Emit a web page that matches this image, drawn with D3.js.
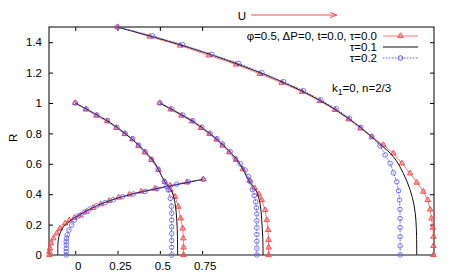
<!DOCTYPE html>
<html>
<head>
<meta charset="utf-8">
<script src="https://cdn.jsdelivr.net/npm/d3@7"></script>
<style>
  body { margin: 0; background: #fff; }
  svg { display: block; font-family: "Liberation Sans", Arial, sans-serif; }
</style>
</head>
<body>
<svg id="chart" width="457" height="277"></svg>
<script>
// tick values
const xTicks = [0, 0.25, 0.5, 0.75];
const yTicks = [0, 0.2, 0.4, 0.6, 0.8, 1, 1.2, 1.4];

// drop starting at (0, 1)
const dropARed = [[0,1],[0.062,0.958],[0.125,0.917],[0.188,0.88],[0.243,0.836],[0.293,0.796],[0.337,0.762],[0.373,0.718],[0.412,0.675],[0.45,0.625],[0.492,0.56],[0.53,0.482],[0.562,0.43],[0.59,0.384],[0.609,0.318],[0.623,0.241],[0.635,0.175],[0.639,0.11],[0.64,0.05],[0.64,0]];
const dropABlack = [[0,1],[0.1,0.94],[0.2,0.876],[0.3,0.795],[0.4,0.695],[0.47,0.605],[0.53,0.48],[0.57,0.42],[0.59,0.34],[0.6,0.23],[0.604,0.12],[0.605,0]];
const dropABlue = [[0,1],[0.065,0.961],[0.128,0.921],[0.191,0.884],[0.246,0.84],[0.295,0.8],[0.339,0.765],[0.375,0.722],[0.413,0.68],[0.45,0.63],[0.49,0.565],[0.527,0.482],[0.55,0.428],[0.562,0.373],[0.568,0.32],[0.57,0.275],[0.57,0.23],[0.57,0.185],[0.57,0.14],[0.57,0.095],[0.57,0.05],[0.57,0]];

// drop starting at (0.5, 1)
const dropBRed = [[0.5,1],[0.563,0.958],[0.627,0.917],[0.69,0.879],[0.742,0.836],[0.793,0.796],[0.835,0.76],[0.87,0.72],[0.91,0.675],[0.95,0.625],[0.99,0.565],[1.03,0.49],[1.06,0.44],[1.085,0.4],[1.102,0.362],[1.122,0.296],[1.132,0.23],[1.14,0.165],[1.142,0.1],[1.143,0.05],[1.143,0]];
const dropBBlack = [[0.5,1],[0.6,0.94],[0.7,0.876],[0.8,0.795],[0.9,0.695],[0.97,0.605],[1.03,0.48],[1.07,0.42],[1.092,0.34],[1.102,0.23],[1.108,0.12],[1.11,0]];
const dropBBlue = [[0.5,1],[0.571,0.961],[0.636,0.921],[0.695,0.884],[0.748,0.84],[0.797,0.8],[0.837,0.765],[0.87,0.73],[0.916,0.68],[0.945,0.636],[0.975,0.6],[1.004,0.559],[1.024,0.515],[1.035,0.482],[1.047,0.43],[1.058,0.39],[1.066,0.35],[1.071,0.31],[1.073,0.27],[1.073,0.225],[1.073,0.18],[1.073,0.135],[1.073,0.09],[1.073,0.045],[1.073,0]];

// drop starting at (0.25, 1.5)
const dropCRed = [[0.25,1.5],[0.44,1.437],[0.62,1.378],[0.79,1.313],[0.95,1.253],[1.09,1.192],[1.22,1.133],[1.34,1.074],[1.445,1.013],[1.535,0.955],[1.615,0.893],[1.685,0.833],[1.752,0.775],[1.821,0.724],[1.88,0.669],[1.93,0.603],[1.979,0.537],[2.018,0.476],[2.057,0.417],[2.083,0.362],[2.097,0.3],[2.105,0.24],[2.113,0.18],[2.117,0.12],[2.117,0.06],[2.117,0]];
const dropCBlack = [[0.25,1.5],[0.6,1.39],[0.9,1.28],[1.2,1.15],[1.45,1.015],[1.65,0.87],[1.8,0.73],[1.88,0.647],[1.939,0.537],[1.979,0.428],[2.002,0.329],[2.013,0.23],[2.017,0.12],[2.018,0]];
const dropCBlue = [[0.25,1.5],[0.457,1.441],[0.634,1.384],[0.807,1.32],[0.965,1.261],[1.103,1.199],[1.231,1.14],[1.349,1.081],[1.451,1.02],[1.542,0.963],[1.62,0.899],[1.687,0.84],[1.752,0.781],[1.801,0.717],[1.831,0.658],[1.861,0.603],[1.88,0.541],[1.9,0.482],[1.91,0.423],[1.916,0.362],[1.919,0.3],[1.92,0.24],[1.92,0.18],[1.92,0.12],[1.92,0.06],[1.92,0]];

// thin film ending at (0.75, 0.5)
const filmRed = [[0.757,0.498],[0.659,0.478],[0.56,0.458],[0.47,0.437],[0.39,0.418],[0.32,0.398],[0.255,0.378],[0.2,0.356],[0.15,0.334],[0.105,0.31],[0.065,0.285],[0.03,0.26],[-0.005,0.245],[-0.035,0.228],[-0.06,0.208],[-0.09,0.175],[-0.109,0.143],[-0.129,0.11],[-0.143,0.077],[-0.149,0.044],[-0.153,0.022],[-0.153,0]];
const filmBlack = [[0.757,0.498],[0.5,0.44],[0.3,0.39],[0.15,0.335],[0.05,0.28],[-0.01,0.241],[-0.045,0.21],[-0.07,0.186],[-0.09,0.143],[-0.1,0.099],[-0.103,0.05],[-0.103,0]];
const filmBlue = [[0.757,0.498],[0.669,0.482],[0.6,0.466],[0.541,0.449],[0.482,0.435],[0.413,0.418],[0.343,0.401],[0.279,0.384],[0.225,0.364],[0.176,0.344],[0.127,0.324],[0.087,0.303],[0.054,0.281],[0.018,0.257],[-0.005,0.23],[-0.021,0.197],[-0.037,0.164],[-0.047,0.132],[-0.051,0.11],[-0.053,0.088],[-0.053,0.066],[-0.053,0.044],[-0.053,0.022],[-0.053,0]];

const legendLabels = ["\u03c6=0.5, \u0394P=0, t=0.0, \u03c4=0.0", "\u03c4=0.1", "\u03c4=0.2"];

const red = "#ff4a4a", blue = "#5a5aff";
const marginLeft = 49, marginRight = 23, marginTop = 27, marginBottom = 22;
const width = 457, height = 277;

const svg = d3.select("#chart");
const x = d3.scaleLinear([-0.155, 2.12], [marginLeft, width - marginRight]);
const y = d3.scaleLinear([0, 1.5], [height - marginBottom, marginTop]);

const font = 11.5;

// axes with inward ticks
svg.append("g")
  .attr("transform", `translate(${marginLeft},0)`)
  .call(d3.axisLeft(y).tickValues(yTicks).tickSize(-4).tickPadding(7).tickFormat(d3.format("")))
  .call(g => g.select(".domain").remove())
  .call(g => g.selectAll("text").attr("font-size", font).attr("font-family", null));
svg.append("g")
  .attr("transform", `translate(${width - marginRight},0)`)
  .call(d3.axisRight(y).tickValues(yTicks).tickSize(-4).tickFormat(""))
  .call(g => g.select(".domain").remove());
svg.append("g")
  .attr("transform", `translate(0,${height - marginBottom})`)
  .call(d3.axisBottom(x).tickValues(xTicks).tickSize(-4).tickPadding(7).tickFormat(d3.format("")))
  .call(g => g.select(".domain").remove())
  .call(g => g.selectAll("text").attr("font-size", font).attr("font-family", null).attr("dx", 2.5));
svg.append("g")
  .attr("transform", `translate(0,${marginTop})`)
  .call(d3.axisTop(x).tickValues(xTicks).tickSize(-4).tickFormat(""))
  .call(g => g.select(".domain").remove());

// frame
svg.append("rect")
  .attr("x", marginLeft).attr("y", marginTop)
  .attr("width", width - marginLeft - marginRight)
  .attr("height", height - marginTop - marginBottom)
  .attr("fill", "none").attr("stroke", "#000");

// R = 0 line
svg.append("line")
  .attr("x1", x(-0.155)).attr("x2", x(2.12))
  .attr("y1", y(0)).attr("y2", y(0))
  .attr("stroke", "#888").attr("stroke-width", 2);

svg.append("text")
  .attr("transform", `translate(17,${y(0.77)}) rotate(-90)`)
  .attr("text-anchor", "middle").attr("font-size", font)
  .text("R");

const plot = svg.append("g");
const straight = d3.line().x(d => x(d[0])).y(d => y(d[1]));
const smooth = d3.line().x(d => x(d[0])).y(d => y(d[1])).curve(d3.curveCatmullRom.alpha(0.5));
const tri = d3.symbol().type(d3.symbolTriangle).size(13);

function drawRed(data) {
  plot.append("path").attr("d", straight(data)).attr("fill", "none")
    .attr("stroke", red).attr("stroke-opacity", 0.75).attr("stroke-width", 1);
  plot.append("g").selectAll("path").data(data).join("path")
    .attr("d", tri).attr("transform", d => `translate(${x(d[0])},${y(d[1])})`)
    .attr("fill", red).attr("fill-opacity", 0.3).attr("stroke", red).attr("stroke-width", 1);
}
function drawBlack(data) {
  plot.append("path").attr("d", smooth(data)).attr("fill", "none")
    .attr("stroke", "#111").attr("stroke-width", 1);
}
function drawBlue(data) {
  plot.append("path").attr("d", straight(data)).attr("fill", "none")
    .attr("stroke", blue).attr("stroke-width", 1).attr("stroke-dasharray", "1.5,1.5");
  plot.append("g").selectAll("circle").data(data).join("circle")
    .attr("cx", d => x(d[0])).attr("cy", d => y(d[1])).attr("r", 2.3)
    .attr("fill", "none").attr("stroke", blue).attr("stroke-opacity", 0.8).attr("stroke-width", 1);
}

[dropARed, dropBRed, dropCRed, filmRed].forEach(drawRed);
[dropABlack, dropBBlack, dropCBlack, filmBlack].forEach(drawBlack);
[dropABlue, dropBBlue, dropCBlue, filmBlue].forEach(drawBlue);

// legend
const lg = svg.append("g");
const rows = [36, 47, 58];
legendLabels.forEach((t, i) => {
  lg.append("text").attr("x", 377).attr("y", rows[i] + 4)
    .attr("text-anchor", "end").attr("font-size", font).text(t);
});
lg.append("line").attr("x1", 383).attr("x2", 418).attr("y1", rows[0]).attr("y2", rows[0])
  .attr("stroke", red).attr("stroke-opacity", 0.75);
lg.append("path").attr("d", tri).attr("transform", `translate(400.5,${rows[0]})`)
  .attr("fill", red).attr("fill-opacity", 0.3).attr("stroke", red);
lg.append("line").attr("x1", 383).attr("x2", 418).attr("y1", rows[1]).attr("y2", rows[1])
  .attr("stroke", "#111");
lg.append("line").attr("x1", 383).attr("x2", 418).attr("y1", rows[2]).attr("y2", rows[2])
  .attr("stroke", blue).attr("stroke-dasharray", "1.5,1.5");
lg.append("circle").attr("cx", 400.5).attr("cy", rows[2]).attr("r", 2.3)
  .attr("fill", "none").attr("stroke", blue);

// annotation
const ann = svg.append("text").attr("x", 332).attr("y", 92).attr("font-size", font);
ann.append("tspan").text("k");
ann.append("tspan").attr("font-size", font * 0.75).attr("dy", 3).text("1");
ann.append("tspan").attr("dy", -3).text("=0, n=2/3");

// velocity arrow
svg.append("text").attr("x", 242).attr("y", 19.5).attr("text-anchor", "middle")
  .attr("font-size", font).text("U");
svg.append("line").attr("x1", 251).attr("x2", 336).attr("y1", 15).attr("y2", 15)
  .attr("stroke", red);
svg.append("path").attr("d", "M337,15 L330,12.5 M337,15 L330,17.5")
  .attr("fill", "none").attr("stroke", red);
</script>
</body>
</html>
